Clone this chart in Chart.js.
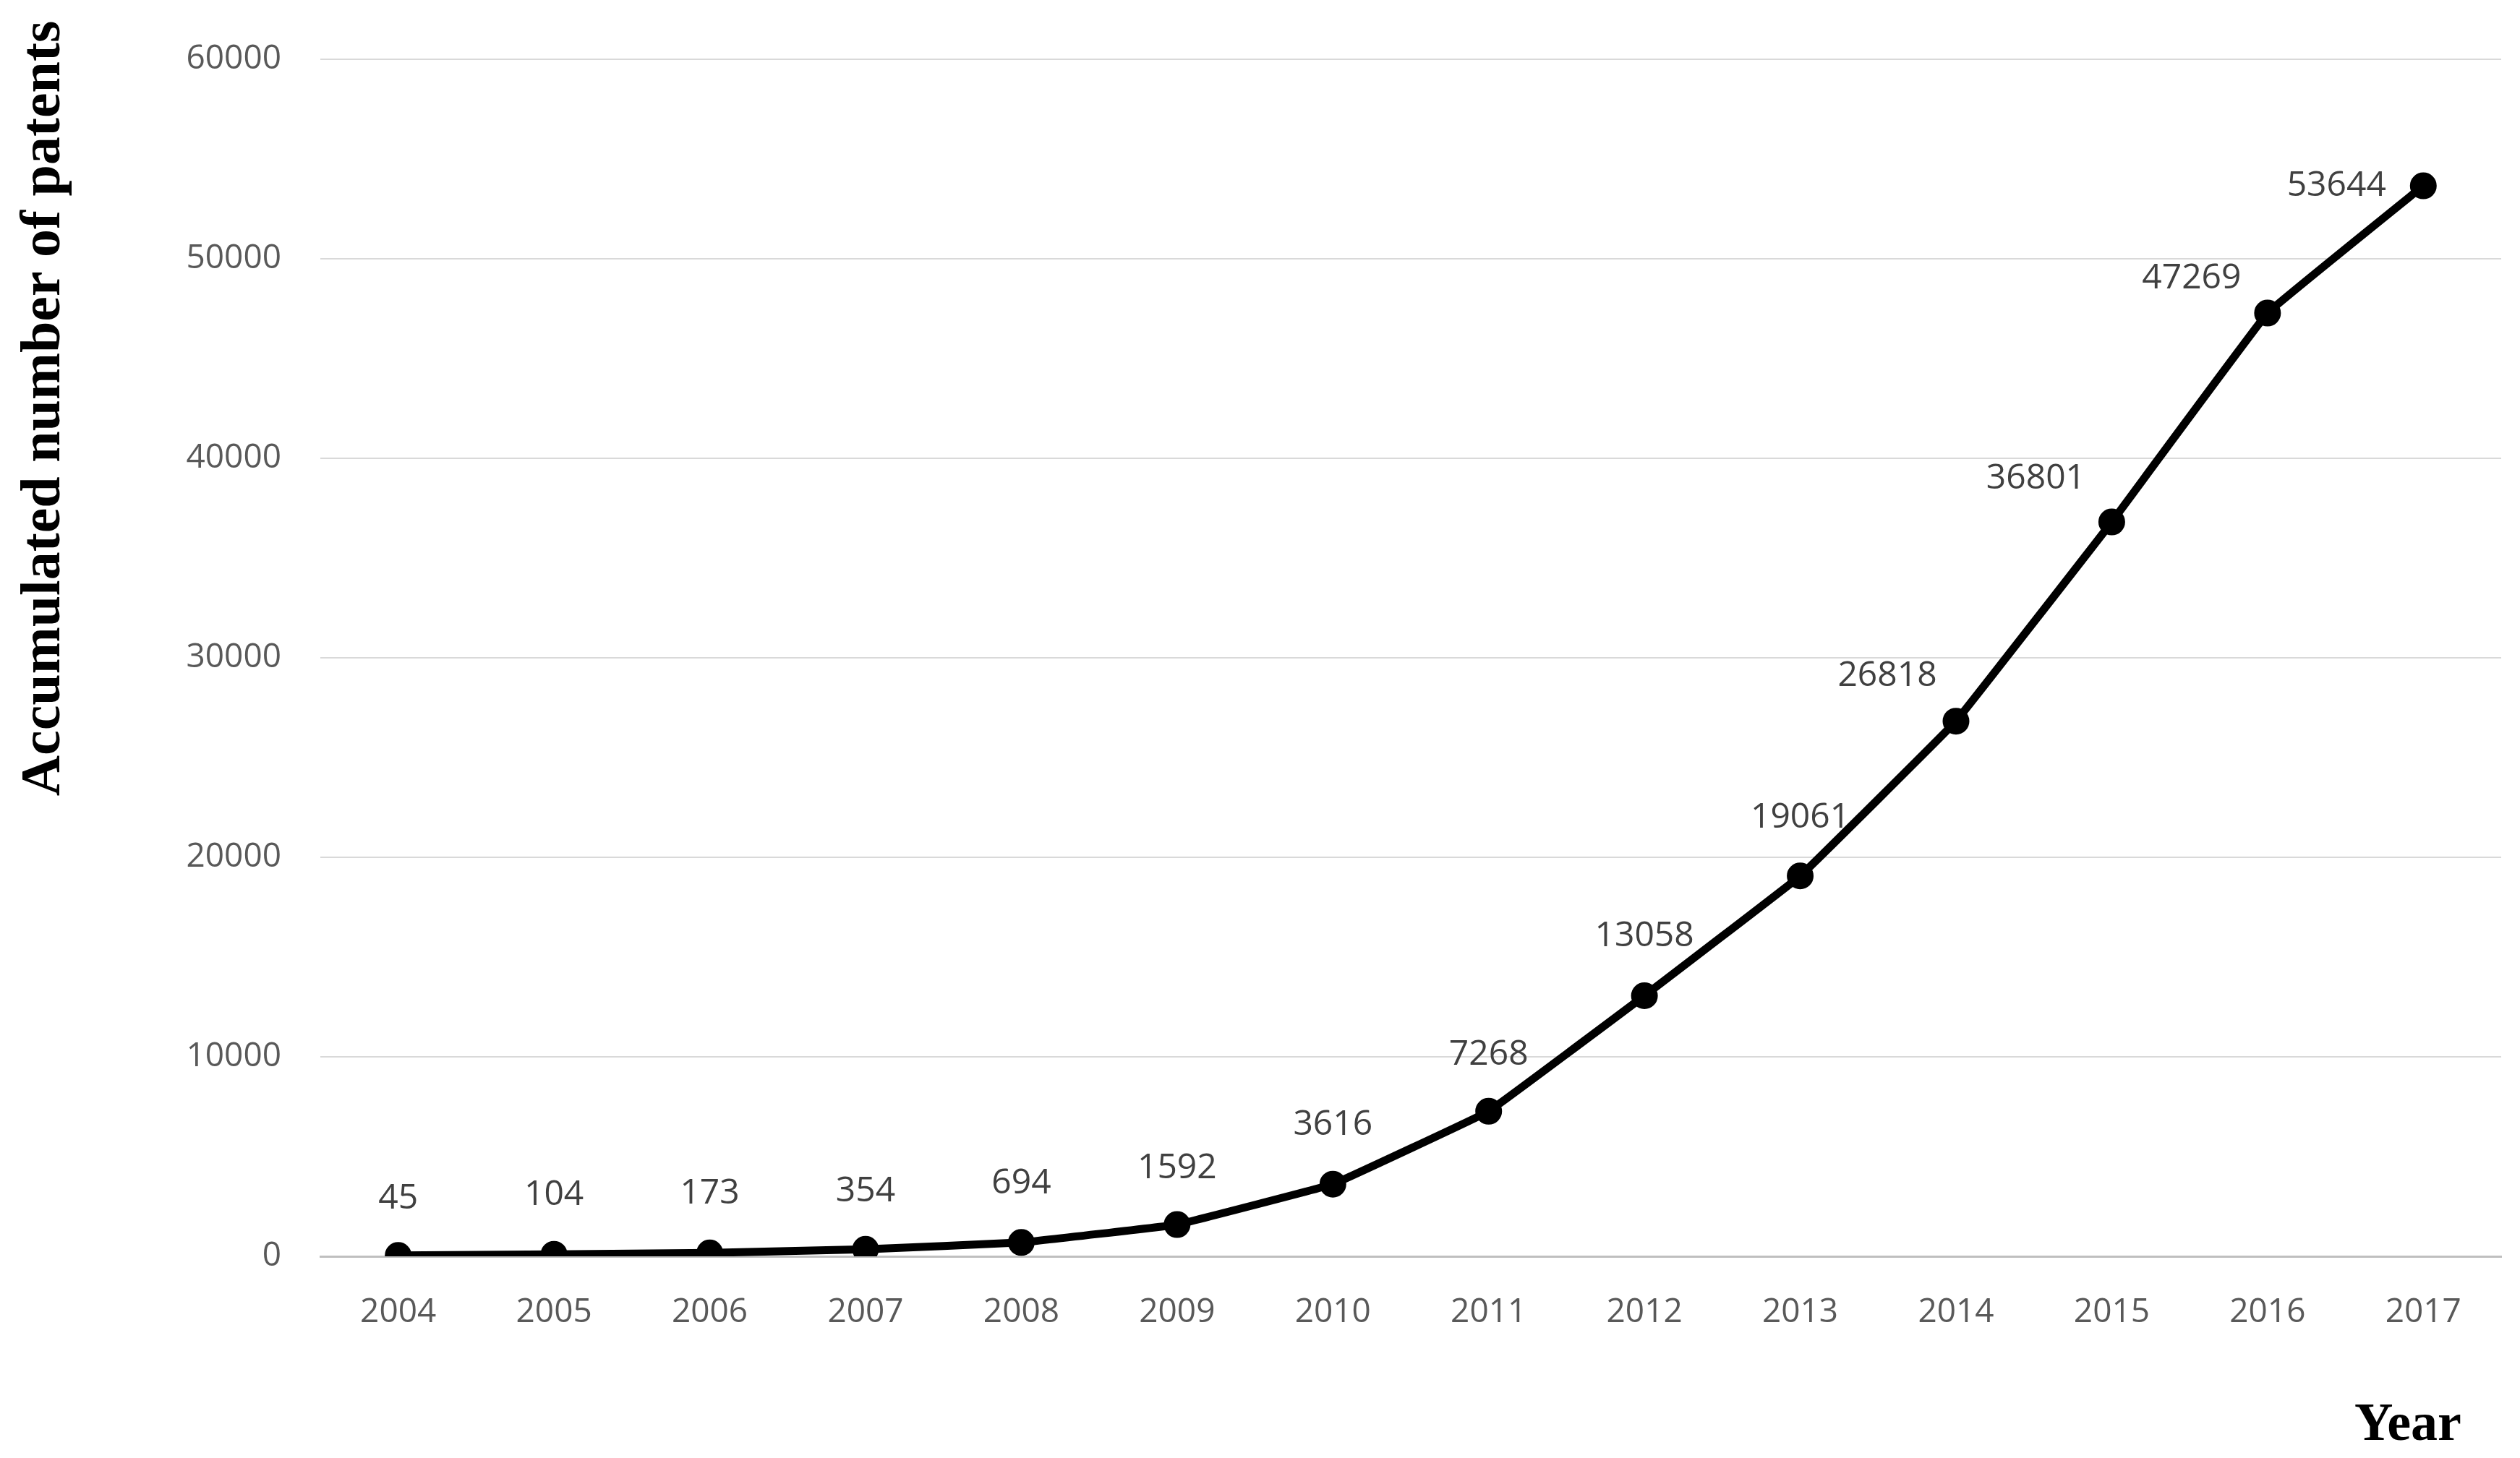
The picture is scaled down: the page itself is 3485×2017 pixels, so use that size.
<!DOCTYPE html>
<html>
<head>
<meta charset="utf-8">
<script src="https://cdn.jsdelivr.net/npm/chart.js@4/dist/chart.umd.min.js"></script>
<style>
  html, body { margin: 0; padding: 0; background: #fff; }
  #wrap { width: 3485px; height: 2017px; position: relative; }
</style>
</head>
<body>
<div id="wrap"><canvas id="patentChart"></canvas></div>
<script>
const years = ['2004', '2005', '2006', '2007', '2008', '2009', '2010', '2011', '2012', '2013', '2014', '2015', '2016', '2017'];
const patents = [45, 104, 173, 354, 694, 1592, 3616, 7268, 13058, 19061, 26818, 36801, 47269, 53644];
const yTicks = [0, 10000, 20000, 30000, 40000, 50000, 60000];

// label offsets from each point (px), as they sit in the original
const labelDx = [0, 0, 0, 0, 0, 0, 0, 0, 0, 0, -95, -105, -105, -120];
const labelDy = [-78, -82, -82, -80, -82, -78, -82, -78, -82, -80, -62, -60, -48, 0];

const pointLabels = {
    id: 'pointLabels',
    afterDatasetsDraw(chart) {
        const ctx = chart.ctx;
        const meta = chart.getDatasetMeta(0);
        ctx.save();
        ctx.font = '48px "Open Sans", "DejaVu Sans", sans-serif';
        ctx.fillStyle = '#404040';
        ctx.textAlign = 'center';
        ctx.textBaseline = 'middle';
        meta.data.forEach((pt, i) => {
            ctx.fillText(String(patents[i]), pt.x + labelDx[i], pt.y + labelDy[i]);
        });
        ctx.restore();
    }
};

const titles = {
    id: 'titles',
    afterDraw(chart) {
        const ctx = chart.ctx;
        ctx.save();
        ctx.fillStyle = '#000';
        ctx.font = 'bold 78px "Liberation Serif", serif';
        ctx.textAlign = 'center';
        ctx.textBaseline = 'middle';
        ctx.translate(62, 565);
        ctx.rotate(-Math.PI / 2);
        ctx.fillText('Accumulated number of patents', 0, 0);
        ctx.restore();
        ctx.save();
        ctx.fillStyle = '#000';
        ctx.font = 'bold 74px "Liberation Serif", serif';
        ctx.textAlign = 'center';
        ctx.textBaseline = 'middle';
        ctx.fillText('Year', 3330, 1973);
        ctx.restore();
    }
};

const ctx = document.getElementById('patentChart').getContext('2d');
new Chart(ctx, {
    type: 'line',
    data: {
        labels: years,
        datasets: [{
            data: patents,
            borderColor: '#000',
            backgroundColor: '#000',
            borderWidth: 11,
            pointRadius: 13,
            pointBackgroundColor: '#000',
            tension: 0.05,
            fill: false
        }]
    },
    options: {
        responsive: true,
        maintainAspectRatio: false,
        animation: false,
        devicePixelRatio: 1,
        layout: { padding: { top: 20, right: 26, bottom: 0, left: 0 } },
        plugins: { legend: { display: false }, tooltip: { enabled: false } },
        scales: {
            x: {
                offset: true,
                grid: { display: false, drawTicks: false },
                border: { color: '#bfbfbf', width: 3 },
                ticks: { color: '#595959', font: { size: 46, family: '"Open Sans", sans-serif' }, padding: 50 },
                afterFit(scale) { scale.height = 279; }
            },
            y: {
                min: 0,
                max: 60000,
                afterBuildTicks(scale) { scale.ticks = yTicks.map(v => ({ value: v })); },
                grid: { color: '#d9d9d9', lineWidth: 2, drawTicks: false },
                border: { display: false },
                ticks: {
                    color: '#595959',
                    font: { size: 46, family: '"Open Sans", sans-serif' },
                    padding: 54,
                    callback: v => String(v)
                },
                afterFit(scale) { scale.width = 443; }
            }
        }
    },
    plugins: [pointLabels, titles]
});
</script>
</body>
</html>
